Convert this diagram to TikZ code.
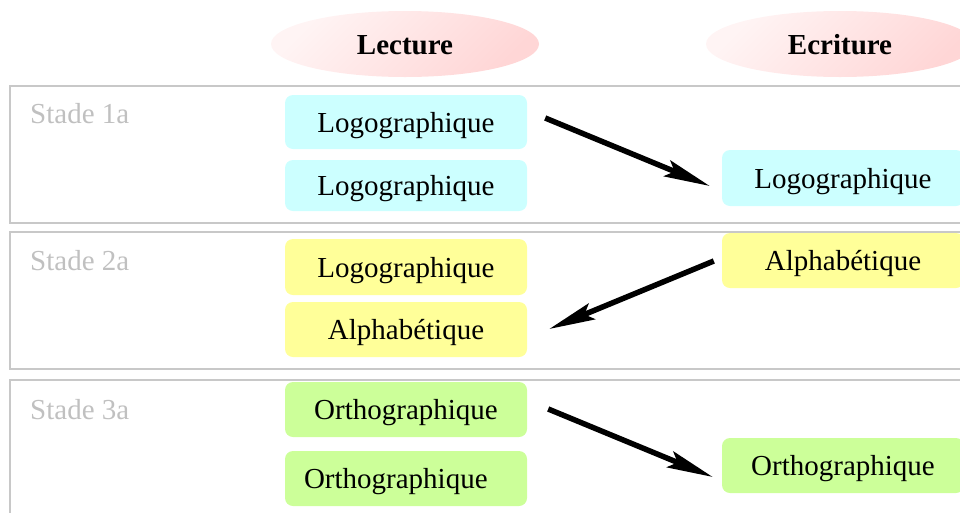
\documentclass[tikz,border=0pt]{standalone}
\usepackage{fontspec}
\setmainfont{Liberation Serif}
\usetikzlibrary{arrows.meta,shapes.geometric,calc}
\definecolor{cyanbox}{HTML}{CCFFFF}
\definecolor{yelbox}{HTML}{FFFF99}
\definecolor{grnbox}{HTML}{CCFF99}
\definecolor{framegray}{HTML}{C8C8C8}
\definecolor{labgray}{HTML}{C0C0C0}
\definecolor{pinkA}{HTML}{FFF4F4}
\definecolor{pinkB}{HTML}{FFD6D6}
\tikzset{
  bigfont/.style={font=\fontsize{29}{34}\selectfont},
  stagebox/.style={draw=framegray, line width=2pt},
  stagelab/.style={bigfont, text=labgray, anchor=base west, inner sep=0pt},
  colhead/.style={ellipse, minimum width=268pt, minimum height=66pt, inner sep=0pt,
    top color=pinkA, bottom color=pinkB, shading angle=45,
    font=\fontsize{29}{34}\selectfont\bfseries, text height=24pt, text depth=4pt},
  wbox/.style={rounded corners=8pt, minimum width=242pt, inner sep=0pt, bigfont,
    text height=26pt, text depth=6pt},
  cy/.style={wbox, fill=cyanbox},
  ye/.style={wbox, fill=yelbox},
  gr/.style={wbox, fill=grnbox},
  bigarrow/.style={line width=5.5pt, -{Stealth[length=46pt,width=17pt,inset=8pt]}},
}
\begin{document}
\begin{tikzpicture}[x=1pt,y=-1pt]
\useasboundingbox (0,0) rectangle (960,512);
\clip (0,0) rectangle (960,512);
% frames
\draw[stagebox] (10,86) rectangle (980,223);
\draw[stagebox] (10,232) rectangle (980,369);
\draw[stagebox] (10,380) rectangle (980,530);
\node[stagelab] (s1) at (30,123) {Stade 1a};
\node[stagelab] (s2) at (30,270) {Stade 2a};
\node[stagelab] (s3) at (30,419) {Stade 3a};
% headers
\node[colhead] (hl) at (405,44) {Lecture};
\node[colhead] (he) at (840,44) {Ecriture};
% stage 1
\node[cy, minimum height=54pt] (l1a) at (406,122) {Logographique};
\node[cy, minimum height=51pt] (l1b) at (406,185.5) {Logographique};
\node[cy, minimum height=56pt] (r1) at (843,178) {Logographique};
% stage 2
\node[ye, minimum height=56pt] (l2a) at (406,267) {Logographique};
\node[ye, minimum height=55pt] (l2b) at (406,329.5) {Alphabétique};
\node[ye, minimum height=55pt] (r2) at (843,260.5) {Alphabétique};
% stage 3
\node[gr, minimum height=55pt] (l3a) at (406,409.5) {Orthographique};
\node[gr, minimum height=55pt, text width=226pt, align=left] (l3b) at (406,478.5) {\hspace*{11pt}Orthographique};
\node[gr, minimum height=55pt] (r3) at (843,465.5) {Orthographique};
% arrows
\draw[bigarrow] ($(l1a.east)+(18,-4)$) -- ($(r1.west)+(-12,8)$);
\draw[bigarrow] ($(r2.west)+(-8,0.5)$) -- ($(l2b.east)+(22,-0.5)$);
\draw[bigarrow] ($(l3a.east)+(21,-0.5)$) -- ($(r3.west)+(-9,11.5)$);
\end{tikzpicture}
\end{document}
